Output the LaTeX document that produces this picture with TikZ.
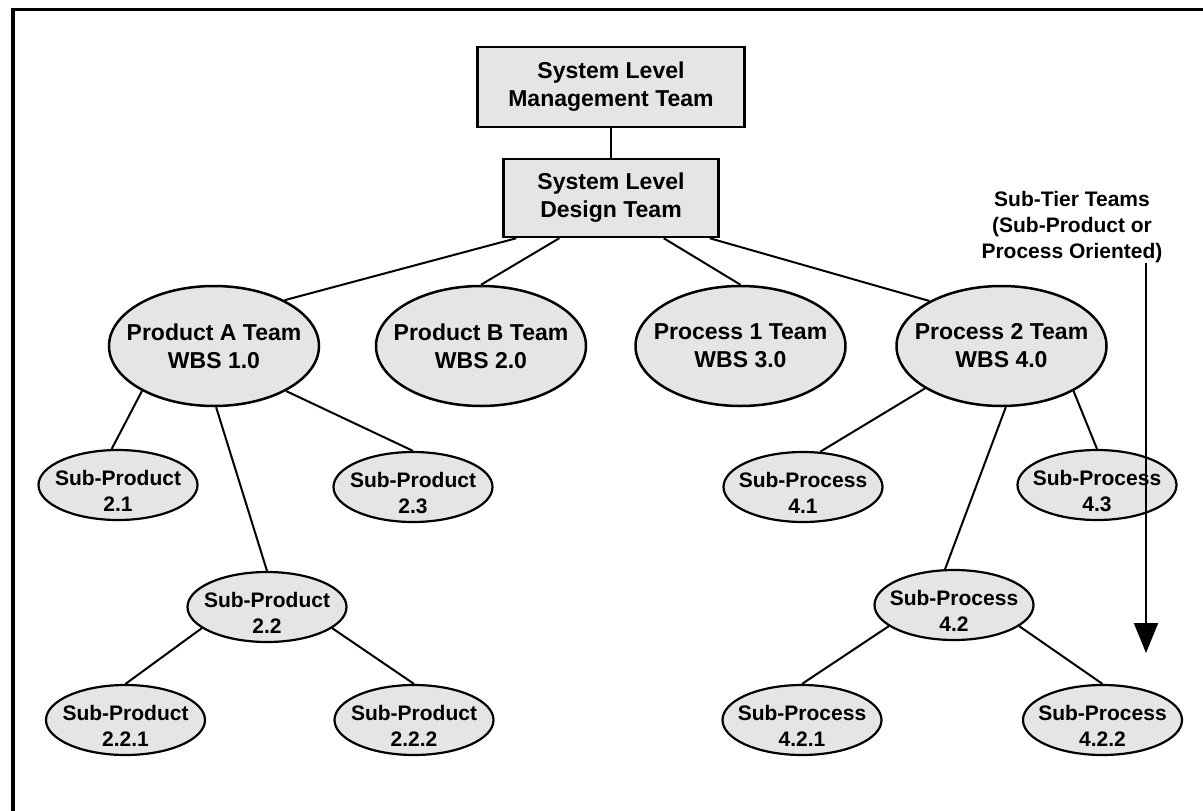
\documentclass[tikz,border=0pt]{standalone}
\usepackage{fontspec}
\setmainfont{Liberation Sans}
\usetikzlibrary{shapes.geometric, arrows.meta}
\newcommand\teamFill{black!10}
\newcommand\bigW{210pt}
\newcommand\bigH{120pt}
\newcommand\smallW{159pt}
\newcommand\smallH{70pt}
\newcommand\bigFont{\fontsize{23}{28}\selectfont\bfseries}
\newcommand\smallFont{\fontsize{21}{26}\selectfont\bfseries}

\begin{document}
\begin{tikzpicture}[x=1pt, y=-1pt,
        teamBox/.style={draw, line width=2.5pt, fill=\teamFill, inner sep=0pt, align=center, font=\bigFont},
        bigTeam/.style={ellipse, draw, line width=2.5pt, fill=\teamFill, minimum width=\bigW, minimum height=\bigH, inner sep=-40pt, align=center, font=\bigFont},
        subTeam/.style={ellipse, draw, line width=2.2pt, fill=\teamFill, minimum width=\smallW, minimum height=\smallH, inner sep=-40pt, align=center, font=\smallFont, text height=53pt},
        link/.style={line width=2pt}]
    \useasboundingbox (0,0) rectangle (1203,811);
    \draw[line width=3.5pt] (13,811) -- (13,9.5) -- (1203,9.5);

    % system level
    \node[teamBox, minimum width=267pt, minimum height=80pt] (mgmt) at (611,87) {System Level\\Management Team};
    \node[teamBox, minimum width=215pt, minimum height=78pt] (design) at (611,198) {System Level\\Design Team};

    % product and process teams
    \node[bigTeam] (prodA) at (214,346) {Product A Team\\WBS 1.0};
    \node[bigTeam] (prodB) at (481,346) {Product B Team\\WBS 2.0};
    \node[bigTeam] (proc1) at (740.5,346) {Process 1 Team\\WBS 3.0};
    \node[bigTeam] (proc2) at (1001.5,346) {Process 2 Team\\WBS 4.0};

    % sub-tier teams
    \node[subTeam] (subProd21) at (118,485) {Sub-Product\\2.1};
    \node[subTeam] (subProd23) at (413,487) {Sub-Product\\2.3};
    \node[subTeam] (subProd22) at (267,607) {Sub-Product\\2.2};
    \node[subTeam] (subProd221) at (125.5,720) {Sub-Product\\2.2.1};
    \node[subTeam] (subProd222) at (414,720) {Sub-Product\\2.2.2};
    \node[subTeam] (subProc41) at (803,487) {Sub-Process\\4.1};
    \node[subTeam] (subProc43) at (1097,485) {Sub-Process\\4.3};
    \node[subTeam] (subProc42) at (954,605) {Sub-Process\\4.2};
    \node[subTeam] (subProc421) at (802,720) {Sub-Process\\4.2.1};
    \node[subTeam] (subProc422) at (1102.5,720) {Sub-Process\\4.2.2};

    \node[font=\smallFont, align=center, inner sep=0pt, anchor=north] (tier) at (1072,191.5) {Sub-Tier Teams\\(Sub-Product or\\Process Oriented)};
    \coordinate (tierEnd) at (1146,653);
    \draw[link, -{Triangle[width=24pt, length=30pt]}] (tier.south -| tierEnd) -- (tierEnd);

    \draw[link] (mgmt) -- (design);
    \draw[link] ([xshift=14pt]design.south west) -- (prodA.33);
    \draw[link] ([xshift=57pt]design.south west) -- (prodB.north);
    \draw[link] ([xshift=-56pt]design.south east) -- (proc1.north);
    \draw[link] ([xshift=-10pt]design.south east) -- (proc2.148);

    \draw[link] (prodA.212) -- (subProd21.100);
    \draw[link] (prodA.-88) -- (subProd22.north);
    \draw[link] (prodA.-32) -- (subProd23.north);
    \draw[link] (subProd22.198) -- (subProd221.north);
    \draw[link] (subProd22.-18) -- (subProd222.north);

    \draw[link] (proc2.209) -- (subProc41.64);
    \draw[link] (proc2.-86) -- (subProc42.104);
    \draw[link] (proc2.-32) -- (subProc43.north);
    \draw[link] (subProc42.198) -- (subProc421.north);
    \draw[link] (subProc42.-18) -- (subProc422.north);
\end{tikzpicture}
\end{document}
